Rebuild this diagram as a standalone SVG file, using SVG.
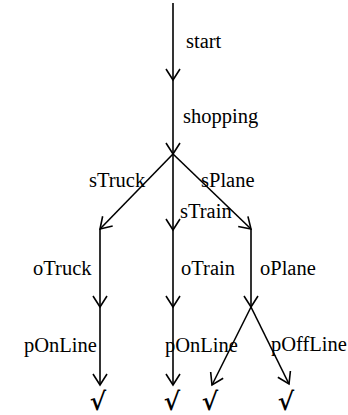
<svg xmlns="http://www.w3.org/2000/svg" width="348" height="415" viewBox="0 0 348 415">
<style>
.e{stroke:#000;stroke-width:1.6;fill:none;marker-end:url(#ah)}
.t{font-family:"Liberation Serif","Times New Roman",serif;font-size:20.5px;fill:#000}
.ck{font-family:"DejaVu Serif",serif;font-size:25px;font-weight:bold;fill:#000;text-anchor:middle}
</style>
<defs>
<marker id="ah" markerUnits="userSpaceOnUse" viewBox="-12 -8 14 16" refX="0" refY="0" markerWidth="14" markerHeight="16" orient="auto" overflow="visible">
<path d="M-11,-7 L0,0 L-11,7" fill="none" stroke="#000" stroke-width="1.6"/>
</marker>
</defs>
<rect width="348" height="415" fill="#fff"/>
<g id="connectors">
<line class="e" x1="173" y1="3" x2="173" y2="80"/>
<line class="e" x1="173" y1="80" x2="173" y2="154"/>
<line class="e" x1="173" y1="154" x2="100" y2="229"/>
<line class="e" x1="173" y1="154" x2="173" y2="230"/>
<line class="e" x1="173" y1="154" x2="251" y2="229"/>
<line class="e" x1="100" y1="229" x2="100" y2="307"/>
<line class="e" x1="100" y1="307" x2="100" y2="385"/>
<line class="e" x1="173" y1="230" x2="173" y2="307"/>
<line class="e" x1="173" y1="307" x2="173" y2="385"/>
<line class="e" x1="251" y1="229" x2="251" y2="307"/>
<line class="e" x1="251" y1="307" x2="212" y2="385"/>
<line class="e" x1="251" y1="307" x2="289" y2="384"/>
<text class="t" x="186" y="48">start</text>
<text class="t" x="183" y="123">shopping</text>
<text class="t" x="89" y="187">sTruck</text>
<text class="t" x="201" y="187">sPlane</text>
<text class="t" x="180" y="218">sTrain</text>
<text class="t" x="33" y="275">oTruck</text>
<text class="t" x="181" y="275">oTrain</text>
<text class="t" x="260" y="275">oPlane</text>
<text class="t" x="24" y="352">pOnLine</text>
<text class="t" x="165" y="352">pOnLine</text>
<text class="t" x="271" y="351">pOffLine</text>
</g>
<g id="n_start"/>
<g id="n_shopping"/>
<g id="n_truck_end"><text class="ck" x="98" y="410">√</text></g>
<g id="n_train_end"><text class="ck" x="172" y="410">√</text></g>
<g id="n_plane_online"><text class="ck" x="210" y="410">√</text></g>
<g id="n_plane_offline"><text class="ck" x="286" y="410">√</text></g>
</svg>
